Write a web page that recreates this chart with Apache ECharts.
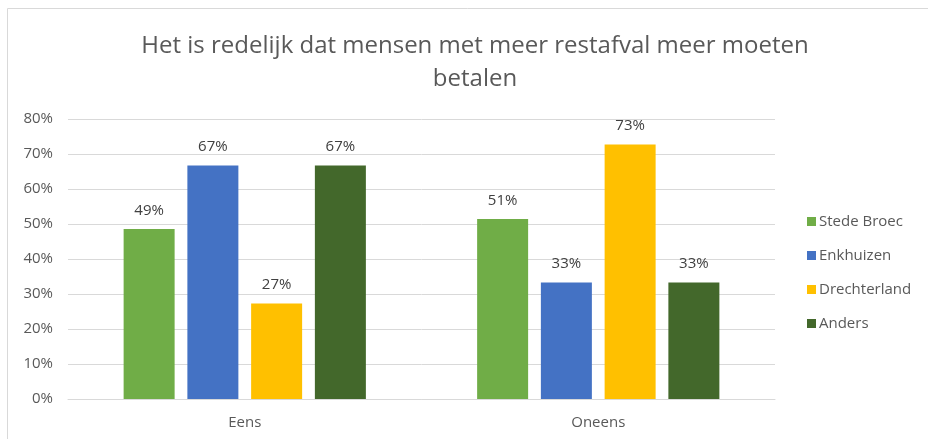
<!DOCTYPE html>
<html>
<head>
<meta charset="utf-8">
<script src="https://cdn.jsdelivr.net/npm/echarts@6/dist/echarts.min.js"></script>
<style>
html, body { margin: 0; padding: 0; background: #fff; }
#chart { width: 928px; height: 439px; }
</style>
</head>
<body>
<div id="chart"></div>
<script>
// categorieen en waarden (aandeel, in %)
var categories = ['Eens', 'Oneens'];
var stedeBroec = [48.6, 51.4];
var enkhuizen = [66.7, 33.3];
var drechterland = [27.3, 72.7];
var anders = [66.7, 33.3];
var yTicks = [0, 10, 20, 30, 40, 50, 60, 70, 80];

var textColor = '#595959';
var fontName = 'Open Sans';

function makeSeries(name, data, color) {
	return {
		name: name,
		type: 'bar',
		data: data,
		barWidth: 51,
		barGap: '25%',
		itemStyle: { color: color },
		label: {
			show: true,
			position: 'top',
			distance: 11,
			color: '#404040',
			fontSize: 15,
			fontFamily: fontName,
			formatter: function (p) {
				return Math.round(p.value) + '%';
			}
		}
	};
}

var myChart = echarts.init(document.getElementById('chart'));
var option = {
	animation: false,
	title: {
		text: 'Het is redelijk dat mensen met meer restafval meer moeten\nbetalen',
		left: 470,
		top: 25,
		textAlign: 'center',
		textStyle: {
			color: textColor,
			fontSize: 24,
			fontWeight: 'normal',
			fontFamily: fontName,
			lineHeight: 33
		}
	},
	graphic: [{
		type: 'polyline',
		shape: { points: [[7.5, 439], [7.5, 8.5], [928, 8.5]] },
		style: { stroke: '#d9d9d9', lineWidth: 1, fill: null }
	}],
	legend: {
		orient: 'vertical',
		left: 802,
		top: 209,
		itemWidth: 9,
		itemHeight: 9,
		itemGap: 19,
		icon: 'rect',
		data: ['Stede Broec', 'Enkhuizen', 'Drechterland', 'Anders'],
		textStyle: { color: textColor, fontSize: 15, fontFamily: fontName, padding: [0, 0, 0, -2] }
	},
	grid: {
		left: 68,
		right: 153,
		top: 119,
		bottom: 40,
		containLabel: false
	},
	xAxis: {
		type: 'category',
		data: categories,
		axisLine: { lineStyle: { color: '#d9d9d9' } },
		axisTick: { show: false },
		axisLabel: { color: textColor, fontSize: 15, fontFamily: fontName, margin: 16 }
	},
	yAxis: {
		type: 'value',
		min: yTicks[0],
		max: yTicks[yTicks.length - 1],
		interval: 10,
		axisLine: { show: false },
		axisTick: { show: false },
		splitLine: { lineStyle: { color: '#d9d9d9' } },
		axisLabel: {
			color: textColor,
			fontSize: 15,
			fontFamily: fontName,
			margin: 15,
			formatter: '{value}%'
		}
	},
	series: [
		makeSeries('Stede Broec', stedeBroec, '#70ad47'),
		makeSeries('Enkhuizen', enkhuizen, '#4472c4'),
		makeSeries('Drechterland', drechterland, '#ffc000'),
		makeSeries('Anders', anders, '#43682b')
	]
};
myChart.setOption(option);
window.onresize = function() {
	myChart.resize();
}
</script>
</body>
</html>
